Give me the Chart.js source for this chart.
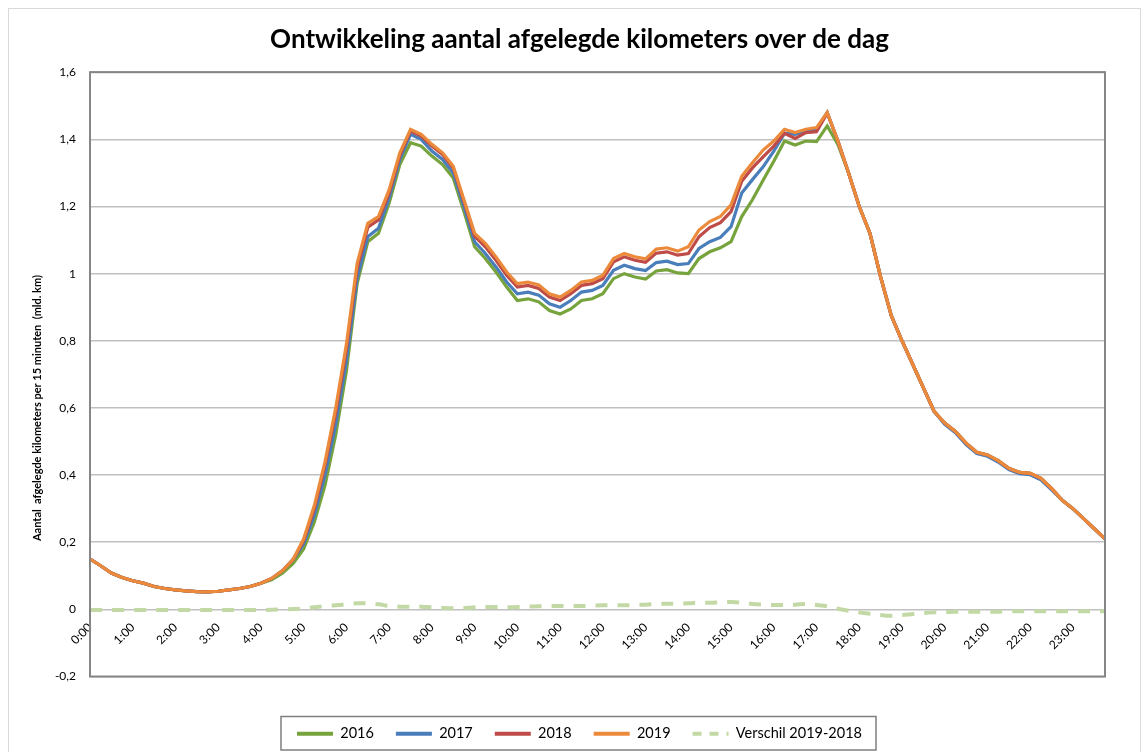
<!DOCTYPE html>
<html>
<head>
<meta charset="utf-8">
<script src="https://cdn.jsdelivr.net/npm/chart.js@4.4.0/dist/chart.umd.min.js"></script>
<style>
html, body { margin: 0; padding: 0; background: #fff; }
#wrap { width: 1144px; height: 752px; }
</style>
</head>
<body>
<div id="wrap"><canvas id="dag" width="1144" height="752"></canvas></div>
<script>
// tijdvakken van 15 minuten
var tijden = [];
for (var h = 0; h < 24; h++) {
    for (var m = 0; m < 60; m += 15) {
        tijden.push(h + ":" + (m < 10 ? "0" + m : m));
    }
}

var yTicks = [-0.2, 0, 0.2, 0.4, 0.6, 0.8, 1, 1.2, 1.4, 1.6];

var km2016 = [0.150,0.130,0.108,0.095,0.085,0.078,0.068,0.062,0.058,0.055,0.053,0.052,0.054,0.058,0.062,0.068,
    0.078,0.088,0.108,0.136,0.180,0.260,0.370,0.520,0.710,0.970,1.095,1.120,1.210,1.325,1.390,1.380,
    1.350,1.325,1.285,1.185,1.080,1.045,1.005,0.960,0.920,0.925,0.916,0.890,0.880,0.895,0.920,0.925,
    0.940,0.985,1.000,0.990,0.984,1.008,1.012,1.002,1.000,1.045,1.065,1.077,1.095,1.170,1.220,1.278,
    1.335,1.395,1.383,1.395,1.393,1.440,1.385,1.300,1.200,1.120,0.990,0.875,0.800,0.730,0.660,0.590,
    0.555,0.530,0.495,0.468,0.460,0.443,0.420,0.408,0.405,0.390,0.360,0.325,0.300,0.270,0.240,0.210];

var km2017 = [0.150,0.130,0.108,0.095,0.085,0.078,0.068,0.062,0.058,0.055,0.053,0.052,0.054,0.058,0.062,0.068,
    0.078,0.092,0.115,0.148,0.195,0.280,0.400,0.550,0.740,0.985,1.110,1.135,1.225,1.340,1.415,1.400,
    1.365,1.340,1.300,1.200,1.095,1.060,1.020,0.975,0.940,0.945,0.936,0.910,0.900,0.920,0.945,0.950,
    0.965,1.010,1.025,1.015,1.009,1.033,1.037,1.027,1.030,1.075,1.095,1.108,1.140,1.240,1.280,1.318,
    1.365,1.418,1.415,1.425,1.430,1.480,1.395,1.300,1.200,1.120,0.990,0.875,0.800,0.730,0.660,0.590,
    0.551,0.526,0.491,0.464,0.456,0.439,0.416,0.404,0.401,0.386,0.356,0.325,0.300,0.270,0.240,0.210];

var km2018 = [0.150,0.130,0.108,0.095,0.085,0.078,0.068,0.062,0.058,0.055,0.053,0.052,0.054,0.058,0.062,0.068,
    0.078,0.092,0.115,0.148,0.205,0.300,0.430,0.585,0.775,1.015,1.138,1.160,1.240,1.352,1.425,1.410,
    1.380,1.355,1.315,1.215,1.112,1.080,1.040,0.995,0.960,0.965,0.956,0.930,0.920,0.940,0.965,0.970,
    0.985,1.035,1.050,1.040,1.034,1.061,1.065,1.055,1.060,1.110,1.137,1.152,1.185,1.275,1.315,1.348,
    1.380,1.418,1.403,1.420,1.423,1.478,1.395,1.300,1.200,1.120,0.990,0.875,0.800,0.730,0.660,0.590,
    0.555,0.530,0.495,0.468,0.460,0.443,0.420,0.408,0.405,0.390,0.360,0.325,0.300,0.270,0.240,0.210];

var km2019 = [0.150,0.130,0.108,0.095,0.085,0.078,0.068,0.062,0.058,0.055,0.053,0.052,0.054,0.058,0.062,0.068,
    0.078,0.092,0.115,0.148,0.210,0.310,0.440,0.600,0.790,1.030,1.150,1.170,1.250,1.360,1.430,1.415,
    1.385,1.360,1.320,1.220,1.120,1.090,1.050,1.005,0.970,0.975,0.966,0.940,0.930,0.950,0.975,0.980,
    0.995,1.045,1.060,1.050,1.044,1.073,1.077,1.067,1.080,1.130,1.155,1.170,1.205,1.290,1.330,1.368,
    1.395,1.430,1.420,1.430,1.435,1.480,1.395,1.300,1.200,1.120,0.990,0.875,0.800,0.730,0.660,0.590,
    0.555,0.530,0.495,0.468,0.460,0.443,0.420,0.408,0.405,0.390,0.360,0.325,0.300,0.270,0.240,0.210];

var verschil = [-0.002,-0.002,-0.002,-0.002,-0.002,-0.002,-0.002,-0.002,-0.002,-0.002,-0.002,-0.002,-0.002,-0.002,-0.002,-0.002,
    -0.002,-0.001,0.000,0.001,0.003,0.006,0.010,0.012,0.015,0.018,0.018,0.015,0.010,0.008,0.008,0.008,
    0.006,0.004,0.003,0.004,0.006,0.007,0.007,0.006,0.007,0.008,0.009,0.010,0.010,0.010,0.010,0.011,
    0.012,0.012,0.012,0.013,0.014,0.016,0.017,0.017,0.018,0.020,0.020,0.021,0.022,0.020,0.016,0.014,
    0.013,0.013,0.014,0.016,0.013,0.009,0.002,-0.004,-0.009,-0.013,-0.017,-0.019,-0.017,-0.014,-0.011,-0.009,
    -0.008,-0.007,-0.007,-0.007,-0.007,-0.007,-0.006,-0.006,-0.006,-0.006,-0.006,-0.006,-0.006,-0.006,-0.006,-0.006];

var lettertype = "Lato, 'Noto Sans', sans-serif";
var yTitel = 'Aantal  afgelegde kilometers per 15 minuten  (mld. km)';

function fmtKomma(v) {
    var r = Math.round(v * 10) / 10;
    if (r == Math.round(r)) return "" + Math.round(r);
    return r.toFixed(1).replace(".", ",");
}

// kaders: rand rond alles, plotgebied, legenda + y-astitel
var kaders = {
    id: 'kaders',
    afterDraw: function (chart) {
        var c = chart.ctx;
        var a = chart.chartArea;
        c.save();
        c.strokeStyle = '#d9d9d9';
        c.lineWidth = 1;
        c.strokeRect(8.5, 8.5, 1132, 760);
        c.strokeStyle = '#868686';
        c.lineWidth = 2;
        c.strokeRect(a.left, a.top, a.right - a.left, a.bottom - a.top);
        var boxes = chart.legend.legendHitBoxes;
        if (boxes && boxes.length) {
            var l = boxes[0].left, r = boxes[boxes.length - 1].left + boxes[boxes.length - 1].width;
            var t = boxes[0].top;
            c.strokeStyle = '#7f7f7f';
            c.lineWidth = 1.5;
            c.strokeRect(l - 16, t - 10, r - l + 30, boxes[0].height + 19);
        }
        c.translate(37, 408);
        c.rotate(-Math.PI / 2);
        c.fillStyle = '#000';
        c.font = "bold 11px " + lettertype;
        c.textAlign = 'center';
        c.textBaseline = 'middle';
        c.fillText(yTitel, 0, 0);
        c.restore();
    }
};

var kleuren = ['#77a33d', '#4a7ebb', '#be4b48', '#ec8a3c', '#c3d9a5'];

const ctx = document.getElementById('dag');
new Chart(ctx, {
    type: 'line',
    data: {
        labels: tijden,
        datasets: [{
            label: '2016',
            data: km2016,
            borderColor: kleuren[0],
            order: 4
        }, {
            label: '2017',
            data: km2017,
            borderColor: kleuren[1],
            order: 3
        }, {
            label: '2018',
            data: km2018,
            borderColor: kleuren[2],
            order: 2
        }, {
            label: '2019',
            data: km2019,
            borderColor: kleuren[3],
            order: 1
        }, {
            label: 'Verschil 2019-2018',
            data: verschil,
            borderColor: kleuren[4],
            borderDash: [12, 10],
            borderWidth: 4,
            tension: 0.4,
            order: 5
        }]
    },
    options: {
        responsive: false,
        animation: false,
        layout: { padding: { left: 41, right: 26, top: 0, bottom: 1 } },
        elements: {
            point: { radius: 0 },
            line: { borderWidth: 3.2, tension: 0 }
        },
        plugins: {
            title: {
                display: true,
                text: 'Ontwikkeling aantal afgelegde kilometers over de dag',
                color: '#000',
                font: { family: lettertype, size: 26, weight: 'bold' },
                padding: { top: 24, bottom: 17 }
            },
            legend: {
                position: 'bottom',
                labels: {
                    usePointStyle: true,
                    pointStyleWidth: 36,
                    boxHeight: 12,
                    padding: 22,
                    color: '#000',
                    font: { family: lettertype, size: 14.5 },
                    generateLabels: function (chart) {
                        return chart.data.datasets.map(function (ds, i) {
                            return {
                                text: ds.label,
                                datasetIndex: i,
                                fillStyle: kleuren[i],
                                strokeStyle: kleuren[i],
                                fontColor: '#000',
                                lineWidth: 4,
                                lineDash: i == 4 ? [9, 8] : [],
                                pointStyle: 'line',
                                hidden: false
                            };
                        });
                    }
                }
            },
            tooltip: { enabled: false }
        },
        scales: {
            x: {
                position: { y: 0 },
                grid: { display: false },
                border: { display: false },
                ticks: {
                    autoSkip: false,
                    minRotation: 45,
                    maxRotation: 45,
                    padding: 3,
                    color: '#000',
                    font: { family: lettertype, size: 12 },
                    callback: function (v, i) {
                        return i % 4 == 0 ? tijden[i] : '';
                    }
                }
            },
            ruimte: {
                type: 'category',
                position: 'bottom',
                afterFit: function (s) { s.height = 28; },
                grid: { display: false },
                border: { display: false },
                ticks: { display: false }
            },
            y: {
                min: -0.2,
                max: 1.6,
                afterBuildTicks: function (s) {
                    s.ticks = yTicks.map(function (v) { return { value: v }; });
                },
                afterFit: function (s) { s.width = 49; },
                grid: { color: '#c0c0c0', lineWidth: 1.5, drawTicks: false },
                border: { display: false },
                ticks: {
                    padding: 14,
                    color: '#000',
                    font: { family: lettertype, size: 12 },
                    callback: function (v) { return fmtKomma(v); }
                }
            },
            rechts: {
                type: 'linear',
                position: 'right',
                afterFit: function (s) { s.width = 13; },
                grid: { display: false },
                border: { display: false },
                ticks: { display: false }
            }
        }
    },
    plugins: [kaders]
});
</script>
</body>
</html>
